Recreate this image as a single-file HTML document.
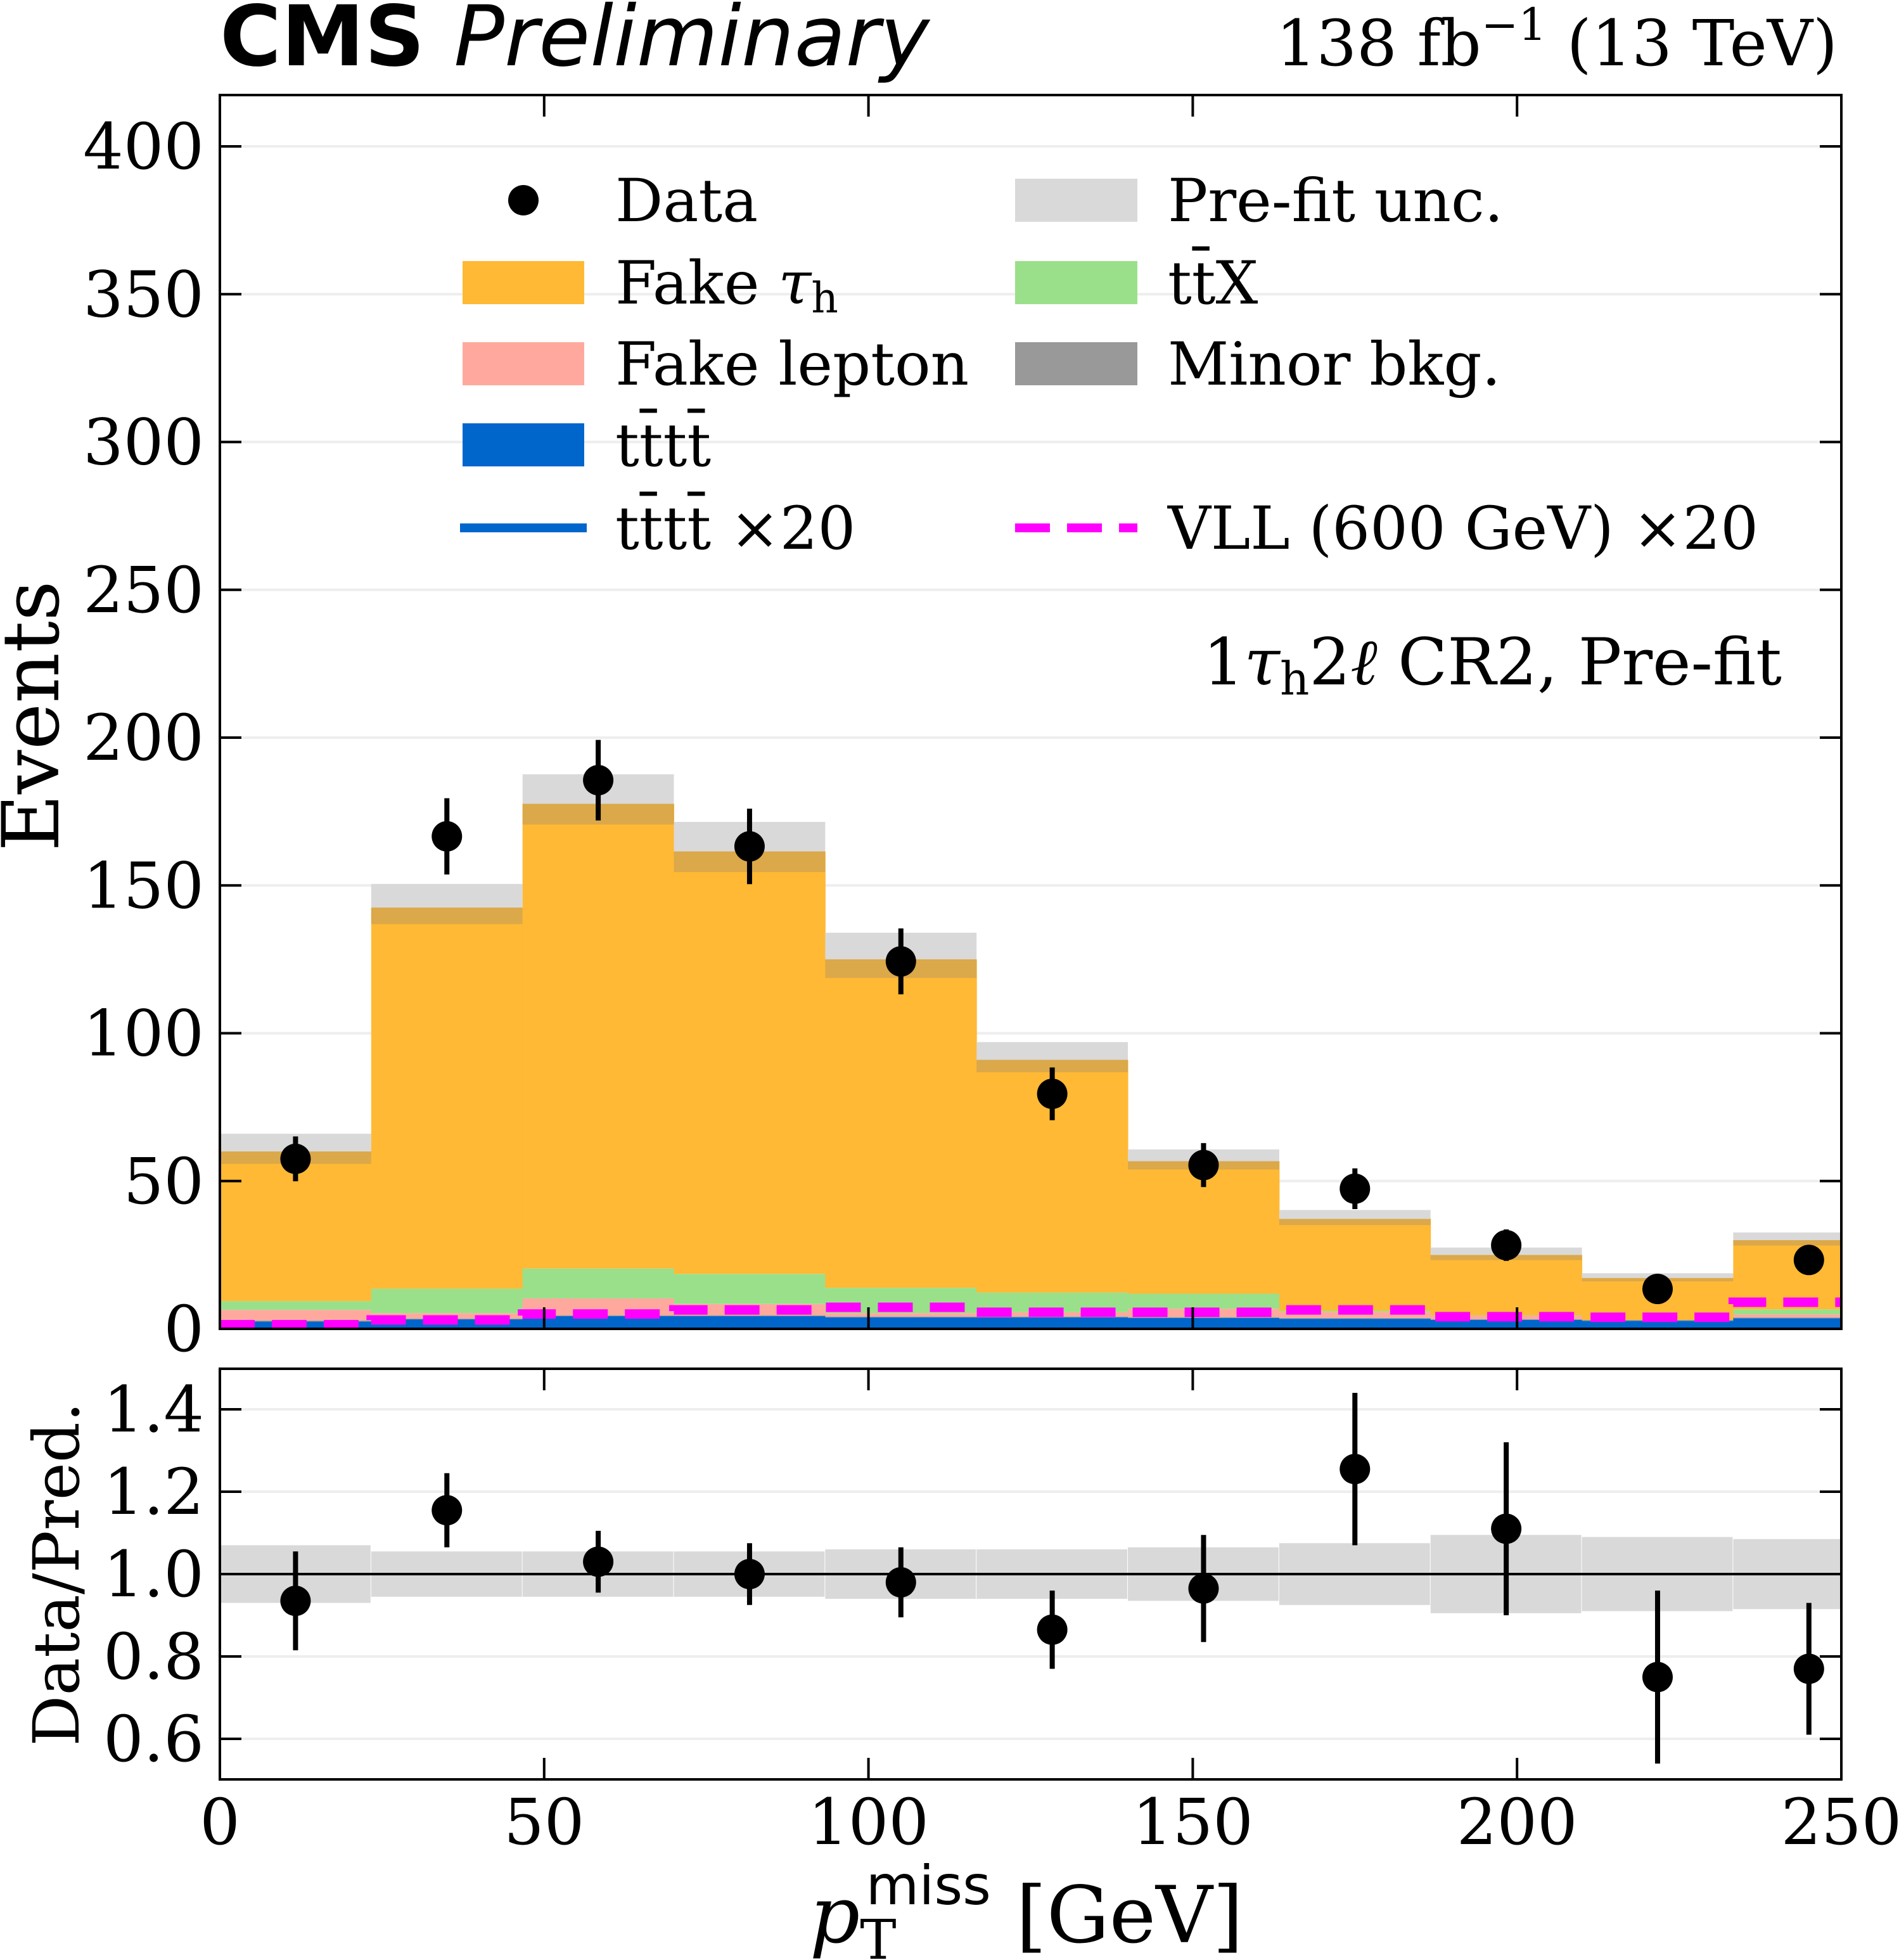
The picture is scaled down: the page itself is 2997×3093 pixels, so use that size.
<!DOCTYPE html>
<html><head><meta charset="utf-8"><style>
html,body{margin:0;padding:0;background:#fff;}
svg{display:block;}
text{font-family:"DejaVu Serif","Liberation Serif",serif;fill:#000;}
.sans{font-family:"DejaVu Sans","Liberation Sans",sans-serif;}
</style></head><body>
<svg id="chart" width="2997" height="3093" viewBox="0 0 2997 3093" xmlns="http://www.w3.org/2000/svg">
<defs>
<clipPath id="mainClip"><rect x="347" y="150" width="2559" height="1947"/></clipPath>
<clipPath id="ratioClip"><rect x="347" y="2160" width="2559" height="648"/></clipPath>
</defs>
<g id="main"></g>
<g id="ratio"></g>
<g id="labels">
<text class="sans" x="347" y="103" font-size="132" font-weight="bold">CMS <tspan font-weight="normal" font-style="italic">Preliminary</tspan></text>
<text x="2900" y="103" font-size="100" text-anchor="end">138 fb<tspan dy="-40" font-size="70">−1</tspan><tspan dy="40"> (13 TeV)</tspan></text>
<text x="2812" y="1080" font-size="102" text-anchor="end">1<tspan font-style="italic">τ</tspan><tspan font-size="72" dy="16">h</tspan><tspan dy="-16">2</tspan><tspan font-style="italic">ℓ</tspan> CR2, Pre-fit</text>
<text x="0" y="0" font-size="124" text-anchor="middle" transform="translate(92,1130) rotate(-90)">Events</text>
<text x="0" y="0" font-size="100" text-anchor="middle" transform="translate(124,2484) rotate(-90)">Data/Pred.</text>
<text x="1620" y="3065" font-size="124" text-anchor="middle"><tspan font-style="italic">p</tspan><tspan font-size="86" dy="26">T</tspan><tspan font-size="86" dx="-48" dy="-86" class="sans">miss</tspan><tspan dy="60"> [GeV]</tspan></text>
</g>
</svg>
<script>
// ---- data ----
const binEdges = [0,23.333,46.667,70,93.333,116.667,140,163.333,186.667,210,233.333,256.667];
const tttt    = [2.5,3.2,4.3,4.3,3.9,3.9,3.7,3.4,3.0,2.7,3.6];
const minorBkg= [0.3,0.3,0.3,0.3,0.3,0.3,0.3,0.3,0.3,0.3,0.3];
const fakeLep = [3.6,1.8,5.7,3.8,1.1,1.4,2.8,2.0,1.2,0.0,1.0];
const ttX     = [3.0,8.3,10.1,10.2,8.6,6.7,5.1,0.4,0.1,0.0,1.7];
const totalPred = [60,142.5,177.6,161.5,125,91,56.7,37.2,25,17.2,30];
const predUnc = [6,8,10,10,9,6,4,3,2.5,1.6,2.6];
const vll20   = [1.4,3.0,5.0,6.4,7.3,5.6,5.6,6.4,4.1,3.9,9.0];
const dataVals= [57.5,166.6,185.6,163.2,124.3,79.5,55.4,47.4,28.3,13.5,23.3];
const ratioVals=[0.935,1.155,1.03,1.0,0.98,0.865,0.965,1.255,1.11,0.75,0.77];
const ratioErr =[0.12,0.09,0.075,0.075,0.085,0.095,0.13,0.185,0.21,0.21,0.16];
const ratioBand=[0.07,0.055,0.055,0.055,0.06,0.06,0.065,0.075,0.095,0.09,0.085];
const xTicks = [0,50,100,150,200,250];
const yTicks = [0,50,100,150,200,250,300,350,400];
const rTicks = [0.6,0.8,1.0,1.2,1.4];

// ---- axes ----
const X0=347,X1=2906;
const xs=v=>X0+(v/250)*(X1-X0);
const Y0=2097,YT=150;
const ys=v=>Y0-v*4.665;
const R0=2160,R1=2808;
const rs=v=>2484-(v-1)*650;
const NS="http://www.w3.org/2000/svg";
function mk(tag,attrs,parent){const e=document.createElementNS(NS,tag);for(const k in attrs)e.setAttribute(k,attrs[k]);parent.appendChild(e);return e;}
const main=document.getElementById('main');
const ratio=document.getElementById('ratio');
const TF=100;

yTicks.forEach(t=>{if(t===0)return;const l=mk('line',{x1:X0,x2:X1,y1:ys(t),y2:ys(t),stroke:'#eeeeee','stroke-width':4},main);

});

const stackG=mk('g',{'clip-path':'url(#mainClip)'},main);


const comps=[[tttt,'#0066cc','tttt'],[minorBkg,'#999999','minor'],[fakeLep,'#ffa99e','fake-lepton'],[ttX,'#9ae08a','ttx']];
for(let i=0;i<11;i++){
  const xa=xs(binEdges[i]),xb=xs(binEdges[i+1]);
  let base=0;
  comps.forEach(c=>{const v=c[0][i];const r=mk('rect',{x:xa,y:ys(base+v),width:xb-xa+0.5,height:Math.max(0,ys(base)-ys(base+v)),fill:c[1]},stackG);
    
    
    base+=v;});
  const r=mk('rect',{x:xa,y:ys(totalPred[i]),width:xb-xa+0.5,height:ys(base)-ys(totalPred[i]),fill:'#ffb935'},stackG);
  
  
  const u1=mk('rect',{x:xa,y:ys(totalPred[i]+predUnc[i]),width:xb-xa,height:ys(totalPred[i])-ys(totalPred[i]+predUnc[i]),fill:'#d9d9d9'},stackG);
  
  
  const u2=mk('rect',{x:xa,y:ys(totalPred[i]),width:xb-xa,height:ys(totalPred[i]-predUnc[i]*0.7)-ys(totalPred[i]),fill:'#dba84a'},stackG);
  
  
}
let d='';
for(let i=0;i<11;i++){const xa=xs(binEdges[i]),xb=xs(binEdges[i+1]);d+=(i===0?'M':'L')+xa+' '+ys(vll20[i])+' L'+xb+' '+ys(vll20[i])+' ';}
const vl=mk('path',{d:d,fill:'none',stroke:'#ff00ff','stroke-width':15,'stroke-dasharray':'55 27'},stackG);


for(let i=0;i<11;i++){const cx=xs((binEdges[i]+binEdges[i+1])/2);const e=Math.sqrt(dataVals[i]);
  const l=mk('line',{x1:cx,x2:cx,y1:ys(dataVals[i]+e),y2:ys(dataVals[i]-e),stroke:'#000','stroke-width':8},stackG);
  
  
  const c=mk('circle',{cx:cx,cy:ys(dataVals[i]),r:24,fill:'#000'},stackG);
  
  }

const f=mk('rect',{x:X0,y:YT,width:X1-X0,height:Y0-YT,fill:'none',stroke:'#000','stroke-width':4},main);


yTicks.forEach(t=>{const y=ys(t);
  mk('line',{x1:X0,x2:X0+34,y1:y,y2:y,stroke:'#000','stroke-width':4},main);
  mk('line',{x1:X1-34,x2:X1,y1:y,y2:y,stroke:'#000','stroke-width':4},main);
  const tx=mk('text',{x:322,y:y+35,'font-size':TF,'text-anchor':'end'},main);tx.textContent=t;
  
  });
xTicks.forEach(t=>{const x=xs(t);
  mk('line',{x1:x,x2:x,y1:YT,y2:YT+34,stroke:'#000','stroke-width':4},main);
  mk('line',{x1:x,x2:x,y1:Y0-34,y2:Y0,stroke:'#000','stroke-width':4},main);});

const leg=mk('g',{},main);


const rowsY=[316,446,574,702,833];
function legText(x,y,html){const t=mk('text',{x:x,y:y+33,'font-size':94},leg);t.innerHTML=html;}
mk('circle',{cx:826,cy:rowsY[0],r:24,fill:'#000'},leg);
legText(971,rowsY[0],'Data');
[['#ffb935',1,'Fake <tspan font-style="italic">τ</tspan><tspan font-size="66" dy="14">h</tspan>'],['#ffa99e',2,'Fake lepton'],['#0066cc',3,'tt̄tt̄']].forEach(e=>{
  mk('rect',{x:730,y:rowsY[e[1]]-34,width:192,height:68,fill:e[0]},leg);legText(971,rowsY[e[1]],e[2]);});
mk('line',{x1:726,x2:926,y1:rowsY[4],y2:rowsY[4],stroke:'#0066cc','stroke-width':14},leg);
legText(971,rowsY[4],'tt̄tt̄ ×20');
[['#d9d9d9',0,'Pre-fit unc.'],['#9ae08a',1,'tt̄X'],['#999999',2,'Minor bkg.']].forEach(e=>{
  mk('rect',{x:1602,y:rowsY[e[1]]-34,width:193,height:68,fill:e[0]},leg);legText(1843,rowsY[e[1]],e[2]);});
mk('line',{x1:1602,x2:1795,y1:rowsY[4],y2:rowsY[4],stroke:'#ff00ff','stroke-width':14,'stroke-dasharray':'55 27'},leg);
legText(1843,rowsY[4],'VLL (600 GeV) ×20');

rTicks.forEach(t=>{if(t===1)return;const l=mk('line',{x1:X0,x2:X1,y1:rs(t),y2:rs(t),stroke:'#eeeeee','stroke-width':4},ratio);
  
  });
const rg=mk('g',{'clip-path':'url(#ratioClip)'},ratio);
for(let i=0;i<11;i++){const xa=xs(binEdges[i]),xb=xs(binEdges[i+1]);
  const b=mk('rect',{x:xa,y:rs(1+ratioBand[i]),width:xb-xa-1,height:rs(1-ratioBand[i])-rs(1+ratioBand[i]),fill:'#d9d9d9'},rg);
  
  }
mk('line',{x1:X0,x2:X1,y1:rs(1),y2:rs(1),stroke:'#000','stroke-width':4},rg);
for(let i=0;i<11;i++){const cx=xs((binEdges[i]+binEdges[i+1])/2);
  const l=mk('line',{x1:cx,x2:cx,y1:rs(ratioVals[i]+ratioErr[i]),y2:rs(ratioVals[i]-ratioErr[i]),stroke:'#000','stroke-width':8},rg);
  
  
  const c=mk('circle',{cx:cx,cy:rs(ratioVals[i]),r:24,fill:'#000'},rg);
  
  }
const rf=mk('rect',{x:X0,y:R0,width:X1-X0,height:R1-R0,fill:'none',stroke:'#000','stroke-width':4},ratio);


rTicks.forEach(t=>{const y=rs(t);
  mk('line',{x1:X0,x2:X0+34,y1:y,y2:y,stroke:'#000','stroke-width':4},ratio);
  mk('line',{x1:X1-34,x2:X1,y1:y,y2:y,stroke:'#000','stroke-width':4},ratio);
  const tx=mk('text',{x:322,y:y+35,'font-size':TF,'text-anchor':'end'},ratio);tx.textContent=t.toFixed(1);
  
  });
xTicks.forEach(t=>{const x=xs(t);
  mk('line',{x1:x,x2:x,y1:R0,y2:R0+34,stroke:'#000','stroke-width':4},ratio);
  mk('line',{x1:x,x2:x,y1:R1-34,y2:R1,stroke:'#000','stroke-width':4},ratio);
  const tx=mk('text',{x:x,y:2910,'font-size':TF,'text-anchor':'middle'},ratio);tx.textContent=t;
  
  });
</script>
</body></html>
